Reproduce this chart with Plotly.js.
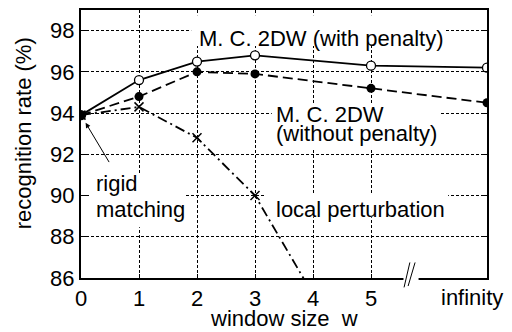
<!DOCTYPE html>
<html>
<head>
<meta charset="utf-8">
<script src="https://cdn.plot.ly/plotly-3.0.1.min.js"></script>
<style>
html,body{margin:0;padding:0;background:#fff;}
#chart{width:512px;height:332px;}
</style>
</head>
<body>
<div id="chart"></div>
<script>
// x positions: 0..5 are window sizes, 7 stands for "infinity"
var xWithPenalty = [0, 1, 2, 3, 5, 7];
var yWithPenalty = [93.9, 95.6, 96.5, 96.8, 96.3, 96.2];
var xWithoutPenalty = [0, 1, 2, 3, 5, 7];
var yWithoutPenalty = [93.9, 94.8, 96.0, 95.9, 95.2, 94.5];
var xLocal = [0, 1, 2, 3, 4];
var yLocal = [93.9, 94.3, 92.8, 90.0, 85.2];
var xTickVals = [0, 1, 2, 3, 4, 5];
var xTickText = ['0', '1', '2', '3', '4', '5'];
var infinityLabel = 'infinity';
var yTickVals = [86, 88, 90, 92, 94, 96, 98];
var X_RANGE = [0, 7];
var Y_RANGE = [86, 99];

var FONT = 'Liberation Sans, Arial, Helvetica, sans-serif';
var FS = 22;

var traces = [
  // white backgrounds behind the in-plot labels (hide the grid there)
  {x: [1.9, 6.28, 6.28, 1.9, 1.9, null, 3.29, 6.19, 6.19, 3.29, 3.29, null,
       0.155, 1.79, 1.79, 0.155, 0.155, null, 3.17, 6.33, 6.33, 3.17, 3.17],
   y: [97.25, 97.25, 98.75, 98.75, 97.25, null, 92.25, 92.25, 94.48, 94.48, 92.25, null,
       88.46, 88.46, 91.08, 91.08, 88.46, null, 88.95, 88.95, 90.1, 90.1, 88.95],
   mode: 'lines', fill: 'toself', fillcolor: '#fff', line: {width: 0, color: 'rgba(0,0,0,0)'},
   hoverinfo: 'skip', showlegend: false},
  {x: xWithPenalty, y: yWithPenalty, mode: 'lines+markers', name: 'with penalty',
   line: {color: '#000', width: 1.8},
   marker: {symbol: 'circle', size: 9, color: '#fff', line: {width: 1.3, color: '#000'}}},
  {x: xLocal, y: yLocal, mode: 'lines+markers', name: 'local perturbation',
   line: {color: '#000', width: 1.8, dash: '10px,4px,2px,4px'},
   marker: {symbol: 'x-thin-open', size: 9, color: '#000', line: {width: 1.5, color: '#000'}}},
  {x: xWithoutPenalty, y: yWithoutPenalty, mode: 'lines+markers', name: 'without penalty',
   line: {color: '#000', width: 1.8, dash: '10px,5px'},
   marker: {symbol: 'circle', size: 9, color: '#000'}}
];

function txt(text, x, y, xanchor) {
  return {text: text, x: x, y: y, xref: 'x', yref: 'y', showarrow: false,
    xanchor: xanchor || 'left', yanchor: 'middle',
    font: {family: FONT, size: FS, color: '#000'}};
}

var annotations = [
  txt('M. C. 2DW (with penalty)', 4.14, 97.62, 'center'),
  txt('M. C. 2DW', 3.32, 93.95),
  txt('(without penalty)', 3.32, 93.02),
  txt('rigid', 0.22, 90.6),
  txt('matching', 0.22, 89.3),
  txt('local perturbation', 3.32, 89.3),
  {text: '', x: 0, y: 93.9, xref: 'x', yref: 'y', ax: 0.5, ay: 91.55, axref: 'x', ayref: 'y',
   showarrow: true, arrowhead: 2, arrowsize: 1, arrowwidth: 1, arrowcolor: '#000', standoff: 9},
  {text: infinityLabel, x: 6.74, y: -0.072, xref: 'x', yref: 'paper', showarrow: false,
   xanchor: 'center', yanchor: 'middle', font: {family: FONT, size: FS, color: '#000'}},
  {text: 'window size  w', x: 0.5, y: -0.15, xref: 'paper', yref: 'paper', showarrow: false,
   xanchor: 'center', yanchor: 'middle', font: {family: FONT, size: FS, color: '#000'}},
  {text: 'recognition rate (%)', x: -0.143, y: 0.54, xref: 'paper', yref: 'paper', showarrow: false,
   textangle: -90, xanchor: 'center', yanchor: 'middle', font: {family: FONT, size: FS, color: '#000'}}
];

var shapes = [
  {type: 'rect', xref: 'x', yref: 'paper', x0: 5.56, x1: 5.82, y0: -0.012, y1: 0.012,
   fillcolor: '#fff', line: {width: 0}, layer: 'above'},
  {type: 'line', xref: 'x', yref: 'paper', x0: 5.57, x1: 5.67, y0: -0.035, y1: 0.058,
   line: {color: '#000', width: 1}, layer: 'above'},
  {type: 'line', xref: 'x', yref: 'paper', x0: 5.64, x1: 5.76, y0: -0.03, y1: 0.058,
   line: {color: '#000', width: 1}, layer: 'above'}
];

var layout = {
  width: 512, height: 332,
  margin: {l: 81, r: 25, t: 10, b: 54},
  paper_bgcolor: '#fff', plot_bgcolor: '#fff',
  showlegend: false,
  font: {family: FONT, size: FS, color: '#000'},
  xaxis: {range: X_RANGE, tickmode: 'array', tickvals: xTickVals, ticktext: xTickText, showline: true, linecolor: '#000',
    linewidth: 2, mirror: true, ticks: 'inside', ticklen: 4, tickwidth: 1, tickcolor: '#000',
    showgrid: true, gridcolor: '#000', gridwidth: 1, griddash: '3px,2px', zeroline: false,
    tickfont: {family: FONT, size: FS, color: '#000'}},
  yaxis: {range: Y_RANGE, tickmode: 'array', tickvals: yTickVals, showline: true, linecolor: '#000',
    linewidth: 2, mirror: 'ticks', ticks: 'inside', ticklen: 5, tickwidth: 1, tickcolor: '#000',
    showgrid: true, gridcolor: '#000', gridwidth: 1, griddash: '3px,2px', zeroline: false,
    tickfont: {family: FONT, size: FS, color: '#000'}},
  annotations: annotations,
  shapes: shapes
};

Plotly.newPlot('chart', traces, layout, {displayModeBar: false, staticPlot: true});
</script>
</body>
</html>
